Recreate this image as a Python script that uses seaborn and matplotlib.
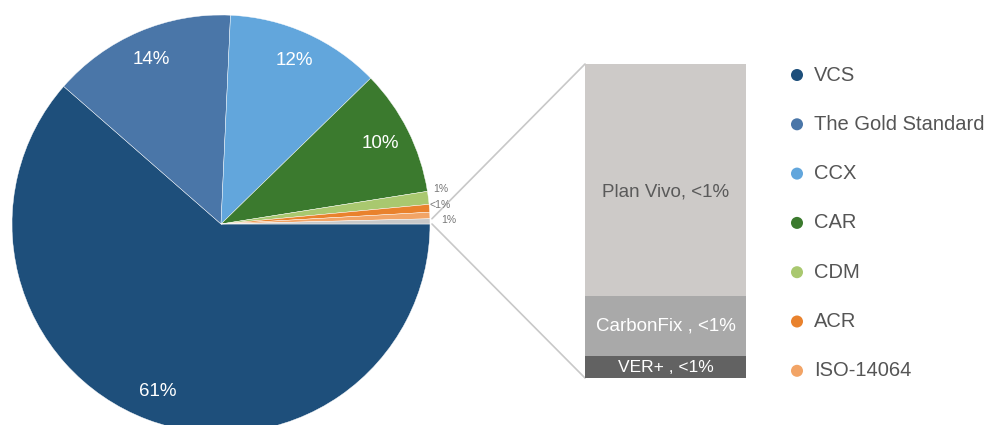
import numpy as np
import matplotlib
matplotlib.use("Agg")
import matplotlib.pyplot as plt
import seaborn as sns
import pandas as pd

# ---- data ----
categories = ["VCS", "The Gold Standard", "CCX", "CAR", "CDM", "ACR", "ISO-14064", "Other"]
shares = [61.5, 14.3, 12.0, 9.8, 1.0, 0.6, 0.5, 0.4]
pie_labels = ["61%", "14%", "12%", "10%", "1%", "<1%", "1%", ""]
pie_colors = ["#1e4f7b", "#4a76a8", "#62a6dc", "#3b7a2e", "#a9c86f", "#e9822d", "#f2a466", "#c9c9c9"]

bar_categories = ["Plan Vivo", "CarbonFix", "VER+"]
bar_values = [0.74, 0.19, 0.07]
bar_labels = ["Plan Vivo, <1%", "CarbonFix , <1%", "VER+ , <1%"]
bar_colors = ["#cdcac8", "#a9a9a9", "#626262"]
bar_text_colors = ["#5a5a5a", "white", "white"]

legend_items = categories[:7]

# ---- style ----
sns.set_theme(style="white")
plt.rcParams["font.family"] = ["Liberation Sans", "DejaVu Sans"]

W, H = 987, 425
fig = plt.figure(figsize=(W / 100, H / 100), dpi=100)
fig.patch.set_facecolor("white")

ax = fig.add_axes([0, 0, 1, 1])
cx, cy, R = 221, 201, 209
wedges, _ = ax.pie(shares, colors=pie_colors, startangle=0, counterclock=False,
                   center=(cx, cy), radius=R,
                   wedgeprops=dict(linewidth=0.3, edgecolor="white"))
ax.set_xlim(0, W)
ax.set_ylim(0, H)
ax.set_aspect("equal")
ax.axis("off")

# big slice labels
for w, lab in zip(wedges[:4], pie_labels[:4]):
    t1, t2 = w.theta1, w.theta2
    mid = np.deg2rad((t1 + t2) / 2)
    x = cx + 0.855 * R * np.cos(mid)
    y = cy + 0.855 * R * np.sin(mid)
    ax.text(x, y, lab, ha="center", va="center", color="white", fontsize=13.5)

# small slice labels (stacked outside the pie edge)
small_offsets = [(220, 35), (219, 19), (228, 4)]
for (dx, dy), lab in zip(small_offsets, pie_labels[4:7]):
    ax.text(cx + dx, cy + dy, lab, ha="center", va="center", color="#777777", fontsize=7.5)

# bar of the "Other" slice
bl, bb, bw, bh = 585, 47, 161, 314
bax = fig.add_axes([bl / W, bb / H, bw / W, bh / H])
cum = np.cumsum(bar_values[::-1])[::-1]  # top-of-segment heights, PV first
bottoms = np.append(cum[1:], 0)
for c, col in zip(cum, bar_colors):
    sns.barplot(x=[0], y=[c], color=col, width=1, saturation=1, linewidth=0, ax=bax)
bax.set_xlim(-0.5, 0.5)
bax.set_ylim(0, cum[0])
bax.axis("off")
label_pos = [0.45, 0.5, 0.5]
label_sizes = [13.5, 13.5, 12.5]
for lab, b, v, tc, p, fs in zip(bar_labels, bottoms, bar_values, bar_text_colors, label_pos, label_sizes):
    bax.text(0, b + p * v, lab, ha="center", va="center", color=tc, fontsize=fs)

# connector lines from the "Other" wedge to the bar
ow = wedges[-1]
for ang, yb in [(ow.theta2, bb + bh), (ow.theta1, bb)]:
    a = np.deg2rad(ang)
    x0 = cx + R * np.cos(a) + 2
    y0 = cy + R * np.sin(a)
    ax.plot([x0, bl], [y0, yb], color="#c8c8c8", lw=1.2, zorder=0)

# legend
ly0, lstep = H - 75, 49.3
for i, (name, col) in enumerate(zip(legend_items, pie_colors)):
    y = ly0 - i * lstep
    ax.scatter([797], [y], s=75, color=col, edgecolor="none", zorder=5)
    ax.text(814, y, name, ha="left", va="center", color="#555555", fontsize=14.5)

fig.savefig("out.png", dpi=100, facecolor="white")
